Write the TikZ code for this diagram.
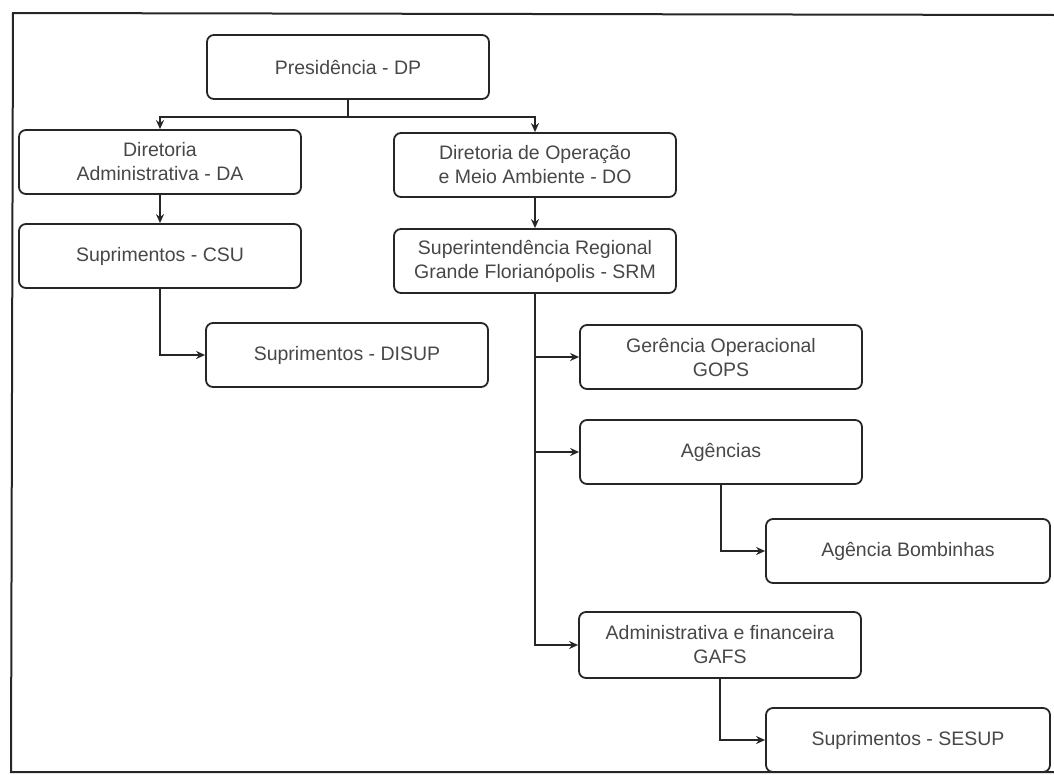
\documentclass[tikz,border=0pt]{standalone}
\usepackage{fontspec}
\setmainfont{Liberation Sans}
\usetikzlibrary{arrows.meta}
\begin{document}
\begin{tikzpicture}[x=1pt,y=-1pt,
  orgbox/.style={draw=black!85, line width=1.8pt, rounded corners=7pt, align=center,
    text=black!72, font=\fontsize{19.5}{24}\selectfont, inner sep=2pt,
    minimum width=282pt, minimum height=64pt},
  link/.style={draw=black!85, line width=2.8pt, -{Stealth[length=9pt,width=8pt]}},
  plainlink/.style={draw=black!85, line width=2.8pt},
  frameline/.style={draw=black!85, line width=2pt}]
\useasboundingbox (0,0) rectangle (1054,774);
\draw[frameline] (1054,15) -- (13,13) -- (11,772) -- (1054,772);

\node[orgbox] (pres)  at (348,67)  {Presidência - DP};
\node[orgbox] (da)    at (160,162) {Diretoria\\Administrativa - DA};
\node[orgbox] (csu)   at (160,256) {Suprimentos - CSU};
\node[orgbox] (do)    at (535,165) {Diretoria de Operação\\e Meio Ambiente - DO};
\node[orgbox] (srm)   at (535,261) {Superintendência Regional\\Grande Florianópolis - SRM};
\node[orgbox] (disup) at (347,355) {Suprimentos - DISUP};
\node[orgbox] (gops)  at (721,357) {Gerência Operacional\\GOPS};
\node[orgbox] (ag)    at (721,452) {Agências};
\node[orgbox, minimum width=284pt] (bomb) at (908,551) {Agência Bombinhas};
\node[orgbox, minimum height=66pt] (gafs) at (720,645) {Administrativa e financeira\\GAFS};
\node[orgbox, minimum width=284pt] (sesup) at (908,740) {Suprimentos - SESUP};

\coordinate (split) at (348,117);
\draw[plainlink] (pres.south) -- (split);
\draw[link] (split) -| (da.north);
\draw[link] (split) -| (do.north);
\draw[link] (da.south) -- (csu.north);
\draw[link] (do.south) -- (srm.north);
\draw[link] (csu.south) |- (disup.west);
\draw[link] (srm.south) |- (gafs.west);
\draw[link] (srm.south |- gops.west) -- (gops.west);
\draw[link] (srm.south |- ag.west) -- (ag.west);
\draw[link] (ag.south) |- (bomb.west);
\draw[link] (gafs.south) |- (sesup.west);
\end{tikzpicture}
\end{document}
